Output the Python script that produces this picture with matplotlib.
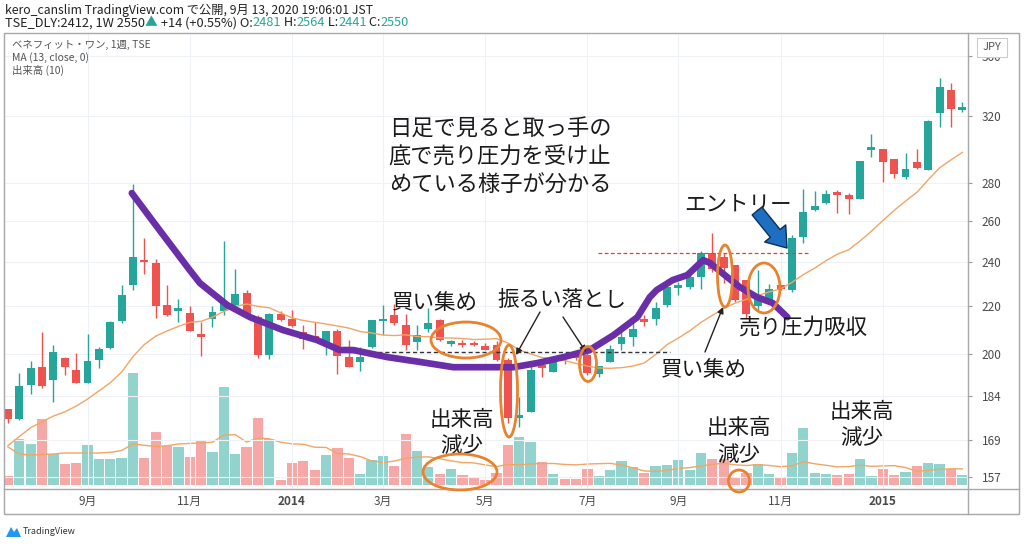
import numpy as np
import pandas as pd
import matplotlib
matplotlib.use("Agg")
import matplotlib.pyplot as plt
from matplotlib.patches import Ellipse, Rectangle, Polygon
from matplotlib.ticker import NullLocator

plt.rcParams['font.family'] = ['Noto Sans CJK JP', 'DejaVu Sans']

# ---------------- data (weekly bars, TSE:2412) ----------------
start_week = '2013-07-15'
opens = [179.4, 176.0, 188.0, 195.0, 190.0, 198.5, 193.8, 189.0, 197.7, 202.3,
         213.4, 229.0, 240.5, 239.3, 220.2, 217.8, 217.0, 208.0, 214.2, 217.9,
         220.4, 225.7, 215.0, 199.6, 216.6, 214.2, 209.0, 206.9, 204.3, 209.3,
         198.7, 197.0, 202.7, 213.3, 216.0, 211.7, 204.9, 210.3, 214.0, 204.1,
         204.6, 204.6, 203.4, 203.6, 197.6, 176.4, 178.6, 195.7, 193.1, 198.3,
         198.6, 199.6, 192.3, 197.0, 204.0, 206.7, 214.2, 214.2, 220.2, 228.0,
         228.2, 232.7, 243.9, 242.0, 238.4, 231.3, 220.0, 221.4, 229.1, 227.1,
         252.0, 265.5, 269.3, 275.5, 273.4, 271.6, 299.2, 299.4, 293.6, 283.6,
         292.3, 287.5, 321.5, 336.6, 323.8]
highs = [179.6, 192.7, 197.3, 209.0, 203.6, 198.8, 200.5, 208.0, 203.0, 213.5,
         229.0, 279.8, 251.3, 241.0, 229.0, 223.0, 220.0, 213.0, 220.0, 249.8,
         236.4, 227.0, 216.0, 216.8, 217.8, 218.0, 212.0, 213.0, 209.5, 210.0,
         205.6, 202.8, 214.0, 220.3, 220.9, 216.6, 211.7, 219.0, 214.3, 205.8,
         205.7, 205.2, 204.6, 205.3, 198.3, 183.9, 195.2, 196.6, 198.9, 199.9,
         200.0, 201.0, 195.5, 203.6, 209.0, 213.6, 216.1, 221.5, 228.5, 230.6,
         234.9, 245.0, 253.7, 244.0, 238.6, 231.6, 236.0, 229.8, 229.2, 252.9,
         277.0, 275.7, 276.3, 276.5, 275.0, 292.6, 308.6, 299.6, 293.8, 297.0,
         299.8, 317.0, 344.5, 341.1, 329.0]
lows = [174.5, 175.8, 184.9, 187.0, 182.0, 192.0, 189.0, 188.8, 194.6, 202.0,
        212.8, 227.0, 234.0, 214.9, 215.8, 213.0, 209.3, 199.3, 211.0, 216.0,
        219.0, 215.8, 198.3, 198.0, 213.6, 211.0, 202.0, 205.5, 199.6, 192.4,
        194.8, 193.5, 202.5, 207.6, 211.7, 201.6, 201.6, 208.9, 205.4, 203.2,
        202.8, 203.2, 201.5, 197.4, 174.6, 173.2, 178.4, 191.0, 192.9, 196.0,
        197.5, 192.0, 191.3, 196.8, 201.6, 203.2, 211.5, 211.7, 219.5, 224.8,
        227.5, 227.5, 235.0, 230.0, 221.8, 214.8, 218.0, 220.8, 226.8, 226.0,
        249.0, 265.3, 269.0, 264.0, 263.6, 271.4, 295.0, 281.0, 283.2, 282.5,
        288.2, 287.3, 313.1, 313.0, 322.6]
closes = [176.0, 187.9, 194.6, 187.8, 200.7, 194.8, 189.1, 197.3, 201.9, 213.0,
          224.7, 242.0, 239.6, 219.9, 216.1, 218.9, 209.5, 206.9, 217.3, 221.0,
          225.0, 216.0, 199.6, 216.6, 213.9, 211.4, 206.0, 206.2, 209.3, 199.2,
          195.1, 198.7, 213.7, 214.1, 212.8, 203.6, 207.6, 212.7, 205.6, 204.9,
          203.6, 203.6, 201.8, 197.6, 176.3, 176.8, 194.0, 194.4, 197.6, 197.9,
          198.3, 192.5, 195.4, 201.9, 206.7, 210.0, 212.9, 219.0, 228.2, 228.6,
          232.7, 243.9, 236.3, 236.9, 222.5, 216.6, 224.0, 227.3, 227.2, 251.6,
          264.6, 267.7, 274.0, 273.4, 271.6, 292.4, 299.9, 292.3, 285.2, 288.1,
          288.4, 316.7, 338.8, 324.0, 324.3]
volumes = [9, 45.7, 40.7, 66, 30.7, 21, 22.3, 40, 25.7, 25.7,
           27, 111.7, 27, 53.3, 39.3, 38.3, 28.3, 44, 32.7, 97.7,
           31, 37.7, 67.3, 46, 5, 21.7, 24, 15, 30, 37.3,
           26.7, 11, 25, 29, 19.3, 50.7, 34.3, 18.3, 11, 15.7,
           10, 7.7, 5, 12.3, 40, 47.7, 42.7, 23.3, 11, 5.7,
           5.7, 16, 9, 15, 24.3, 18.3, 12.3, 19, 20, 25,
           15, 31.7, 26, 26, 8.3, 11.7, 20.7, 11, 8.3, 31.7,
           57, 11.7, 11, 10, 11, 26, 9, 15.7, 10, 13.3,
           19, 21.7, 20.7, 15.7, 10]
# moving-average values of the first bars (window reaches before the chart start)
ma13_lead = [167, 170, 173, 175, 177, 178.5, 180.5, 183, 186, 189, 193, 199]
vol_ma10_lead = [38, 31, 30, 30.5, 31, 32, 32, 32, 32]
price_ticks = [157, 169, 184, 200, 220, 240, 260, 280, 320, 360]

header1 = "kero_canslim TradingView.com で公開, 9月 13, 2020 19:06:01 JST"
header2 = [("TSE_DLY:2412, 1W 2550", 'k'), ("▲", 'teal'), (" +14 (+0.55%) O:", 'k'),
           ("2481", 'teal'), (" H:", 'k'), ("2564", 'teal'), (" L:", 'k'),
           ("2441", 'teal'), (" C:", 'k'), ("2550", 'teal')]
legend_lines = ["ベネフィット・ワン, 1週, TSE", "MA (13, close, 0)", "出来高 (10)"]

# hand-drawn annotation path (bar index, price)
purple_idx = [10.9, 12.8, 14.0, 16.0, 16.9, 19.3, 21.3, 24.2, 27.2, 29.2, 30.4, 33.4,
              36.3, 39.2, 42.2, 44.5, 46.6, 48.9, 51.2, 53.3, 55.4, 56.5, 57.1, 58.5,
              59.8, 61.2, 61.8, 63.3, 64.4, 65.9, 67.3, 68.6]
purple_px = [274.7, 259.5, 250.4, 236.0, 230.0, 220.3, 215.1, 209.7, 205.6, 201.6, 201.6,
             198.8, 196.9, 194.9, 194.9, 194.9, 196.5, 198.8, 201.6, 207.6, 215.1, 223.8,
             226.9, 231.4, 233.7, 240.7, 239.3, 232.8, 228.3, 223.8, 221.2, 215.1]

# ---------------- derived ----------------
o = np.array(opens); h = np.array(highs); l = np.array(lows); c = np.array(closes)
v = np.array(volumes, dtype=float)
n = len(c)
x = np.arange(n)
dates = pd.date_range(start_week, periods=n, freq='W-MON')
ma13 = pd.Series(c).rolling(13).mean().values
ma13[:12] = ma13_lead
vma10 = pd.Series(v).rolling(10).mean().values
vma10[:9] = vol_ma10_lead

GREEN = '#26a69a'
RED = '#ef5350'
up = c >= o
cols = np.where(up, GREEN, RED)
vcols = np.where(up, '#92d3cd', '#f6a8a6')

# ---------------- figure ----------------
W, H = 1024, 546
fig = plt.figure(figsize=(W / 100, H / 100), dpi=100)
L, R, T, B = 4, 968, 33, 489
rect = [L / W, 1 - B / H, (R - L) / W, (B - T) / H]

axv = fig.add_axes(rect)
axv.set_facecolor('white')
axv.bar(x, v, width=0.9, color=vcols, linewidth=0, zorder=2)
axv.plot(x, vma10, color='#f3a565', lw=1.0, zorder=3)
axv.set_ylim(-4, 485 - T)
axv.set_xlim(-0.35, 84.5)
axv.axis('off')

ax = fig.add_axes(rect)
ax.set_facecolor('none')
ax.set_yscale('log')
ax.set_ylim(153.3, 376.6)
ax.set_xlim(-0.35, 84.5)

# time ticks: first bar of each odd month / year
tpos, tlab = [], []
for i in range(1, n):
    if dates[i].month != dates[i - 1].month:
        m = dates[i].month
        if m == 1:
            tpos.append(i); tlab.append(str(dates[i].year))
        elif m % 2 == 1:
            tpos.append(i); tlab.append(f"{m}月")
ax.set_xticks(tpos)
ax.set_xticklabels(tlab)
for t in ax.get_xticklabels():
    if t.get_text().isdigit():
        t.set_fontweight('bold')
ax.tick_params(axis='x', length=0, labelsize=8.5, labelcolor='#4a4a4a', pad=4)

ax.yaxis.tick_right()
ax.set_yticks(price_ticks)
ax.set_yticklabels([str(p) for p in price_ticks])
ax.yaxis.set_minor_locator(NullLocator())
ax.tick_params(axis='y', length=3, width=0.8, color='#999999', labelsize=8.5,
               labelcolor='#4a4a4a', pad=7)
for s in ax.spines.values():
    s.set_visible(False)
ax.grid(True, color='#eef1f6', lw=0.8, zorder=0)
ax.set_axisbelow(True)

# candles
ax.vlines(x, l, h, colors=cols, lw=1.0, zorder=3)
blo = np.minimum(o, c)
bhi = np.maximum(np.maximum(o, c), blo * 1.005)
ax.bar(x, bhi - blo, bottom=blo, width=0.7, color=cols, linewidth=0, zorder=4)
ax.plot(x, ma13, color='#f3a565', lw=1.0, zorder=5)

# annotation lines in price space
ax.hlines(200.9, 30.1, 58.3, colors='#333333', linestyles=(0, (3, 2)), lw=1.0, zorder=6)
ax.hlines(244.1, 51.9, 70.6, colors='#e0403a', linestyles=(0, (3, 2)), lw=0.9, zorder=6)
ax.plot(purple_idx, purple_px, color='#6a2fa8', lw=4.8, solid_capstyle='round',
        solid_joinstyle='round', zorder=7)

# ---------------- overlay (pixel space) ----------------
ov = fig.add_axes([0, 0, 1, 1])
ov.set_xlim(0, W)
ov.set_ylim(H, 0)
ov.axis('off')
ov.set_facecolor('none')

frame = '#a8a8a8'
ov.add_patch(Rectangle((L, T), 1019 - L, 514 - T, fill=False, ec=frame, lw=1))
ov.plot([R, R], [T, 514], color=frame, lw=1)
ov.plot([L, 1019], [B, B], color=frame, lw=1)

# header
ov.text(5, 10, header1, fontsize=8.8, color='#222222', va='center')
r = fig.canvas.get_renderer()
xp = 5
for s, col in header2:
    t = ov.text(xp, 23, s, fontsize=9.2, color=('#26a69a' if col == 'teal' else '#222222'),
                va='center')
    xp += t.get_window_extent(renderer=r).width
for i, s in enumerate(legend_lines):
    ov.text(12, 45 + 12.5 * i, s, fontsize=7.5, color='#555555', va='center')

# JPY box
ov.add_patch(Rectangle((977, 38), 30, 19, fc='white', ec='#cccccc', lw=0.8, zorder=5))
ov.text(992, 47.5, 'JPY', fontsize=8, color='#555555', ha='center', va='center', zorder=6)

# TradingView logo
ov.add_patch(Polygon([(6, 537), (11, 527), (14, 532), (17, 528), (21, 537)],
                     closed=True, fc='#2196f3', ec='none'))
ov.text(23, 532, 'TradingView', fontsize=6.5, color='#333333', va='center')

# annotation texts
tc = '#1a1a1a'
fs = 15.5
for yy, s in zip([129, 157, 185], ["日足で見ると取っ手の", "底で売り圧力を受け止", "めている様子が分かる"]):
    ov.text(500, yy, s, fontsize=16, color=tc, ha='center', va='center')
ov.text(435, 303, "買い集め", fontsize=fs, color=tc, ha='center', va='center')
ov.text(562, 300, "振るい落とし", fontsize=fs, color=tc, ha='center', va='center')
ov.text(462, 420, "出来高", fontsize=fs, color=tc, ha='center', va='center')
ov.text(462, 447, "減少", fontsize=fs, color=tc, ha='center', va='center')
ov.text(738, 204, "エントリー", fontsize=fs, color=tc, ha='center', va='center')
ov.text(803, 328, "売り圧力吸収", fontsize=fs, color=tc, ha='center', va='center')
ov.text(704, 370, "買い集め", fontsize=fs, color=tc, ha='center', va='center')
ov.text(739, 428, "出来高", fontsize=fs, color=tc, ha='center', va='center')
ov.text(739, 456, "減少", fontsize=fs, color=tc, ha='center', va='center')
ov.text(862, 412, "出来高", fontsize=fs, color=tc, ha='center', va='center')
ov.text(862, 439, "減少", fontsize=fs, color=tc, ha='center', va='center')

# ellipses
oc = '#e8822e'
for (cx, cy, ew, eh) in [(466, 340, 70, 36), (509, 391, 17, 92), (588, 364, 17, 35),
                         (460, 472, 74, 36), (725, 276, 15, 62), (764, 288, 32, 50),
                         (739, 481, 21, 22)]:
    ov.add_patch(Ellipse((cx, cy), ew, eh, fill=False, ec=oc, lw=2, zorder=8))

# arrows
ap = dict(arrowstyle='-|>', lw=1, color='#222222', mutation_scale=9, shrinkA=0, shrinkB=0)
ov.annotate('', xy=(516, 355), xytext=(540, 312), arrowprops=ap)
ov.annotate('', xy=(586, 352), xytext=(563, 317), arrowprops=ap)
ov.annotate('', xy=(723, 307), xytext=(705, 352), arrowprops=ap)
ov.annotate('', xy=(787, 248), xytext=(757, 211),
            arrowprops=dict(arrowstyle='simple,head_width=1.3,head_length=0.9,tail_width=0.6',
                            fc='#1e6fc1', ec='#0b2f57', lw=1, mutation_scale=15,
                            shrinkA=0, shrinkB=0))

fig.savefig('out.png', dpi=100)
